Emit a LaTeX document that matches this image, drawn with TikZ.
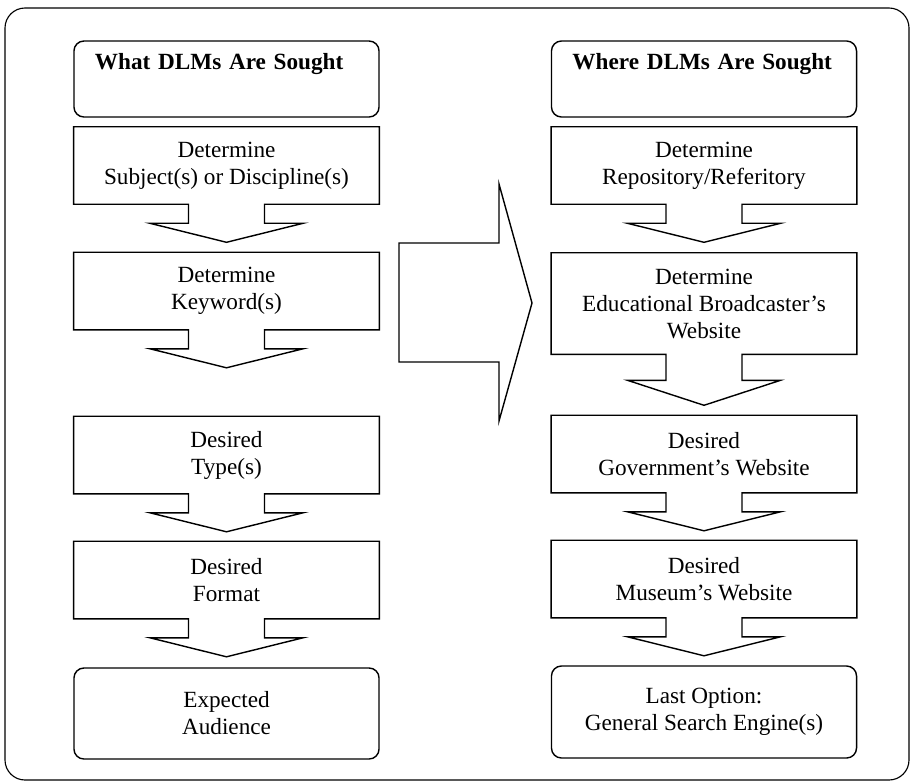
\documentclass[tikz,border=0pt]{standalone}
\usepackage{fontspec}
\setmainfont{Liberation Serif}
\usetikzlibrary{calc}

\begin{document}
\begin{tikzpicture}[
        x=0.025cm, y=-0.025cm,
        stepbox/.style={rectangle, draw=none, inner sep=0pt, minimum width=7.625cm, minimum height=1.925cm, align=center, font=\fontsize{16.5}{19.2}\selectfont},
        endbox/.style={stepbox, draw, line width=1pt, rounded corners=0.25cm, minimum height=2.275cm},
        titlebox/.style={rectangle, draw, line width=1pt, rounded corners=0.25cm, inner xsep=0.525cm, inner ysep=0pt, text width=6.575cm, minimum height=1.9cm, align=left, font=\fontsize{16.5}{19.2}\selectfont\bfseries},
        stepline/.style={line width=1pt, line join=miter}
    ]
        \useasboundingbox (0,0) rectangle (912,783);

        % Outer frame
        \draw[line width=0.8pt, rounded corners=0.5cm] (5,8) rectangle (909,780);

        % Left column: what is sought
        \node[titlebox] (wtitle) at (226.5,79) {What DLMs Are Sought\\ \strut};
        \node[stepbox] (wsubject) at (226.5,165.5) {Determine\\Subject(s) or Discipline(s)};
        \node[stepbox] (wkeyword) at (226.5,291) {Determine\\Keyword(s)};
        \node[stepbox] (wtype) at (226.5,455) {Desired\\Type(s)};
        \node[stepbox] (wformat) at (226.5,580) {Desired\\Format};
        \node[endbox] (waudience) at (226.5,713.5) {Expected\\Audience};

        % Right column: where it is sought
        \node[titlebox] (htitle) at (704,79) {Where DLMs Are Sought\\ \strut};
        \node[stepbox] (hrepo) at (704,165.5) {Determine\\Repository/Referitory};
        \node[stepbox, minimum height=2.525cm] (hbroad) at (704,303.5) {Determine\\Educational Broadcaster's\\Website};
        \node[stepbox] (hgov) at (704,454) {Desired\\Government's Website};
        \node[stepbox] (hmuseum) at (704,579) {Desired\\Museum's Website};
        \node[endbox, minimum height=2.3cm] (hengine) at (704,712) {Last Option:\\General Search Engine(s)};

        % Boxes with a down arrow below them
        \foreach \b/\s/\t in {wsubject/19/19, wkeyword/19/19, wtype/19/19, wformat/19/19,
                              hrepo/19/19, hbroad/26/25, hgov/19/19, hmuseum/19/19} {
            \draw[stepline] (\b.north west) -- (\b.north east) -- (\b.south east)
                -- ($(\b.south)+(38,0)$) -- ($(\b.south)+(38,\s)$)
                -- ($(\b.south)+(76.5,\s)$) -- ($(\b.south)+(0,\s+\t)$)
                -- ($(\b.south)+(-76.5,\s)$) -- ($(\b.south)+(-38,\s)$)
                -- ($(\b.south)+(-38,0)$) -- (\b.south west) -- cycle;
        }

        % Big arrow between the columns
        \draw[stepline] (399,243) -- (499,243) -- (499,184) -- (532,303)
            -- (499,421) -- (499,362) -- (399,362) -- cycle;

    \end{tikzpicture}
\end{document}
